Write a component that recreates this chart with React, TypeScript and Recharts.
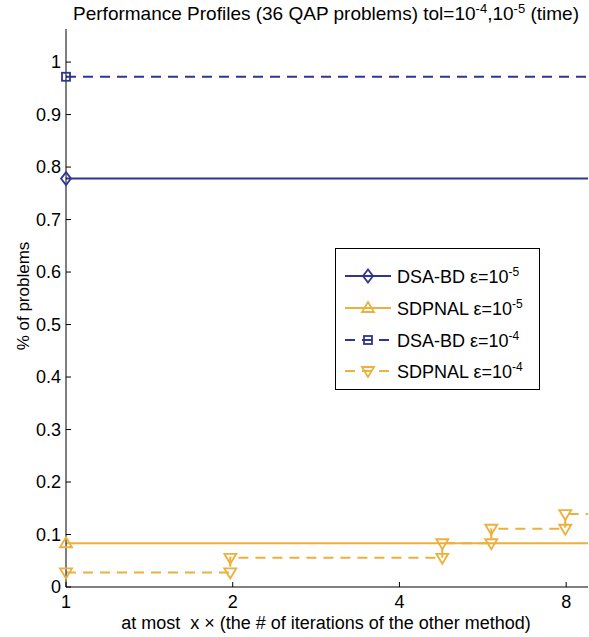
import React from 'react';
import { LineChart, Line, XAxis, YAxis } from 'recharts';

const BLUE = '#2f3592';
const ORANGE = '#ecb03c';
const FONT = '"Liberation Sans", Arial, Helvetica, sans-serif';

const xTicks = [1, 2, 4, 8];
const yTicks = [0, 0.1, 0.2, 0.3, 0.4, 0.5, 0.6, 0.7, 0.8, 0.9, 1];
const xDomain = [1, 8.76];
const yDomain = [0, 1.063];

// performance profiles, fraction of the 36 problems
const dsaTight = [{ x: 1, y: 0.778 }, { x: 8.76, y: 0.778 }];
const sdpTight = [{ x: 1, y: 0.0833 }, { x: 8.76, y: 0.0833 }];
const dsaLoose = [{ x: 1, y: 0.972 }, { x: 8.76, y: 0.972 }];
const sdpLooseX = [1, 1.98, 1.98, 4.78, 4.78, 5.86, 5.86, 7.97, 7.97, 8.76];
const sdpLooseY = [0.0278, 0.0278, 0.0556, 0.0556, 0.0833, 0.0833, 0.111, 0.111, 0.139, 0.139];
const sdpLoose = sdpLooseX.map((x, i) => ({ x, y: sdpLooseY[i] }));

const legendItems = [
  { name: 'DSA-BD', exp: '-5', color: BLUE, dash: false, shape: 'diamond' },
  { name: 'SDPNAL', exp: '-5', color: ORANGE, dash: false, shape: 'up' },
  { name: 'DSA-BD', exp: '-4', color: BLUE, dash: true, shape: 'square' },
  { name: 'SDPNAL', exp: '-4', color: ORANGE, dash: true, shape: 'down' },
];

const Marker = ({ cx, cy, shape, color }: { cx: number; cy: number; shape: string; color: string }) => {
  const common = { fill: 'none', stroke: color, strokeWidth: 1.8 };
  switch (shape) {
    case 'diamond':
      return <polygon points={`${cx},${cy - 6.5} ${cx + 5},${cy} ${cx},${cy + 6.5} ${cx - 5},${cy}`} {...common} />;
    case 'square':
      return <rect x={cx - 4} y={cy - 4} width={8} height={8} {...common} />;
    case 'up':
      return <polygon points={`${cx},${cy - 6} ${cx + 6},${cy + 4} ${cx - 6},${cy + 4}`} {...common} />;
    default:
      return <polygon points={`${cx - 6},${cy - 4} ${cx + 6},${cy - 4} ${cx},${cy + 6}`} {...common} />;
  }
};

// markers on every point but the last one (which sits on the right frame)
const makeDot = (shape: string, color: string, n: number) => (p: any) => {
  if (p.index >= n - 1) return <g key={`e-${p.index}`} />;
  return (
    <g key={`m-${p.index}`}>
      <Marker cx={p.cx} cy={p.cy} shape={shape} color={color} />
    </g>
  );
};

const Legend = () => {
  const rows = [276, 308, 340, 371];
  return (
    <g>
      <rect x={335.5} y={248.5} width={204} height={141} fill="#fff" stroke="#000" strokeWidth={1} />
      {legendItems.map((it, i) => (
        <g key={i}>
          <line
            x1={345}
            x2={391}
            y1={rows[i]}
            y2={rows[i]}
            stroke={it.color}
            strokeWidth={2}
            strokeDasharray={it.dash ? '10 7' : undefined}
          />
          <Marker cx={368} cy={rows[i]} shape={it.shape} color={it.color} />
          <text x={397} y={rows[i] + 7} fontSize={18} fill="#000">
            {it.name} {'\u03b5'}=10
            <tspan dy={-7} fontSize={12}>{it.exp}</tspan>
          </text>
        </g>
      ))}
    </g>
  );
};

export default function App() {
  return (
    <div style={{ position: 'absolute', left: 0, top: 0, width: 589, height: 637, background: '#fff', fontFamily: FONT }}>
      <LineChart width={589} height={637} margin={{ top: 29, right: 1, left: 0, bottom: 0 }}>
        <XAxis
          dataKey="x"
          type="number"
          scale="log"
          domain={xDomain}
          ticks={xTicks}
          height={50}
          tickSize={-5}
          tickMargin={13}
          stroke="#000"
          tick={{ fill: '#000', fontSize: 18 }}
        />
        <XAxis
          xAxisId="top"
          orientation="top"
          dataKey="x"
          type="number"
          scale="log"
          domain={xDomain}
          ticks={xTicks}
          height={0}
          tickSize={-5}
          stroke="#000"
          tickFormatter={() => ''}
        />
        <YAxis
          type="number"
          domain={yDomain}
          ticks={yTicks}
          width={66}
          tickSize={-5}
          tickMargin={10}
          stroke="#000"
          tick={{ fill: '#000', fontSize: 18 }}
        />
        <YAxis
          yAxisId="right"
          orientation="right"
          type="number"
          domain={yDomain}
          ticks={yTicks}
          width={0}
          tickSize={-5}
          stroke="#000"
          tickFormatter={() => ''}
        />
        <Line
          data={dsaTight}
          dataKey="y"
          stroke={BLUE}
          strokeWidth={2}
          dot={makeDot('diamond', BLUE, dsaTight.length)}
          isAnimationActive={false}
        />
        <Line
          data={sdpTight}
          dataKey="y"
          stroke={ORANGE}
          strokeWidth={2}
          dot={makeDot('up', ORANGE, sdpTight.length)}
          isAnimationActive={false}
        />
        <Line
          data={dsaLoose}
          dataKey="y"
          stroke={BLUE}
          strokeWidth={2}
          strokeDasharray="10 7"
          dot={makeDot('square', BLUE, dsaLoose.length)}
          isAnimationActive={false}
        />
        <Line
          data={sdpLoose}
          dataKey="y"
          stroke={ORANGE}
          strokeWidth={2}
          strokeDasharray="10 7"
          dot={makeDot('down', ORANGE, sdpLoose.length)}
          isAnimationActive={false}
        />
      </LineChart>
      <svg width={589} height={637} style={{ position: 'absolute', left: 0, top: 0, pointerEvents: 'none' }}>
        <text x={326} y={20} textAnchor="middle" fontSize={19} fill="#000">
          Performance Profiles (36 QAP problems) tol=10
          <tspan dy={-7} fontSize={13}>-4</tspan>
          <tspan dy={7}>,10</tspan>
          <tspan dy={-7} fontSize={13}>-5</tspan>
          <tspan dy={7}> (time)</tspan>
        </text>
        <text transform="translate(29,296) rotate(-90)" textAnchor="middle" fontSize={17} fill="#000">
          % of problems
        </text>
        <text x={326} y={629} textAnchor="middle" fontSize={18} fill="#000" style={{ whiteSpace: 'pre' }}>
          {'at most  x \u00d7 (the # of iterations of the other method)'}
        </text>
        <Legend />
      </svg>
    </div>
  );
}
